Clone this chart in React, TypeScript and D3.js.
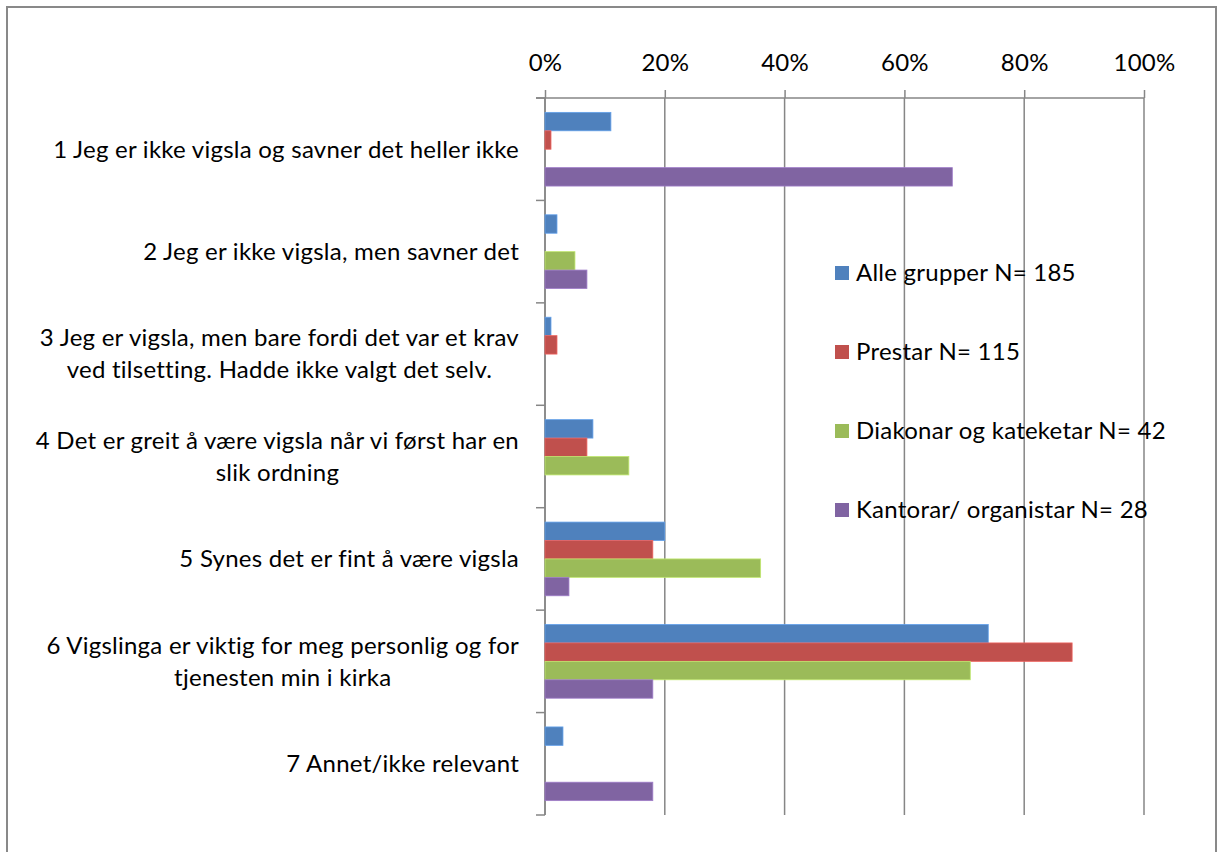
import { useRef, useEffect } from "react";
import * as d3 from "d3";

// category labels, already split into the lines the original wraps them on
const categories = [
  ["1 Jeg er ikke vigsla og savner det heller ikke"],
  ["2 Jeg er ikke vigsla, men savner det"],
  ["3 Jeg er vigsla, men bare fordi det var et krav", "ved tilsetting. Hadde ikke valgt det selv."],
  ["4 Det er greit å være vigsla når vi først har en", "slik ordning"],
  ["5 Synes det er fint å være vigsla"],
  ["6 Vigslinga er viktig for meg personlig og for", "tjenesten min i kirka"],
  ["7 Annet/ikke relevant"],
];

const seriesNames = [
  "Alle grupper N= 185",
  "Prestar N= 115",
  "Diakonar og kateketar N= 42",
  "Kantorar/ organistar N= 28",
];
const seriesColors = ["#4F81BD", "#C0504D", "#9BBB59", "#8064A2"];

const alleGrupper = [0.11, 0.02, 0.01, 0.08, 0.2, 0.74, 0.03];
const prestar = [0.01, 0, 0.02, 0.07, 0.18, 0.88, 0];
const diakonar = [0, 0.05, 0, 0.14, 0.36, 0.71, 0];
const kantorar = [0.68, 0.07, 0, 0, 0.04, 0.18, 0.18];

const tickValues = [0, 0.2, 0.4, 0.6, 0.8, 1];

const FONT = "Lato, 'Open Sans', sans-serif";
const FONT_SIZE = "24px";
const SPACING = "0.25px";

const App = () => {
  const svgRef = useRef(null);
  const width = 1222;
  const height = 852;
  const plot = { left: 545, right: 1144, top: 98, bottom: 815 };

  useEffect(() => {
    const svg = d3.select(svgRef.current);
    svg.selectAll("*").remove();

    const keys = categories.map((c) => c.join(" "));
    const allSeries = [alleGrupper, prestar, diakonar, kantorar];

    const x = d3.scaleLinear().domain([0, 1]).range([plot.left, plot.right]);
    const y = d3.scaleBand().domain(keys).range([plot.top, plot.bottom]).padding(0);
    const ySub = d3
      .scaleBand()
      .domain(d3.range(seriesNames.length))
      .range([0, y.bandwidth()])
      .paddingInner(0)
      .paddingOuter(0.78);

    // chart frame
    svg
      .append("rect")
      .attr("x", 7)
      .attr("y", 7)
      .attr("width", 1209)
      .attr("height", 860)
      .attr("fill", "#fff")
      .attr("stroke", "#898989")
      .attr("stroke-width", 2);

    // vertical gridlines
    svg
      .append("g")
      .selectAll("line")
      .data(tickValues)
      .join("line")
      .attr("x1", (d) => x(d))
      .attr("x2", (d) => x(d))
      .attr("y1", plot.top)
      .attr("y2", plot.bottom)
      .attr("stroke", "#868686")
      .attr("stroke-width", 1.5);

    // top axis
    const xAxis = d3
      .axisTop(x)
      .tickValues(tickValues)
      .tickFormat(d3.format(".0%"))
      .tickSize(8)
      .tickSizeOuter(0)
      .tickPadding(19);
    const gx = svg.append("g").attr("transform", `translate(0, ${plot.top})`).call(xAxis);
    gx.select(".domain").remove();
    gx.selectAll(".tick line").attr("stroke", "#868686").attr("stroke-width", 1.5);
    gx.selectAll(".tick text")
      .attr("fill", "#000")
      .style("font-family", FONT)
      .style("font-size", FONT_SIZE)
      .style("letter-spacing", SPACING);
    gx.append("line")
      .attr("x1", plot.left - 9)
      .attr("x2", plot.right)
      .attr("stroke", "#868686")
      .attr("stroke-width", 1.5);

    // left axis with category ticks at band edges
    const edges = keys.map((k) => y(k)).concat([plot.bottom]);
    const gy = svg.append("g");
    gy.append("line")
      .attr("x1", plot.left)
      .attr("x2", plot.left)
      .attr("y1", plot.top)
      .attr("y2", plot.bottom)
      .attr("stroke", "#868686")
      .attr("stroke-width", 1.5);
    gy.selectAll("line.tk")
      .data(edges)
      .join("line")
      .attr("class", "tk")
      .attr("x1", plot.left - 9)
      .attr("x2", plot.left)
      .attr("y1", (d) => d)
      .attr("y2", (d) => d)
      .attr("stroke", "#868686")
      .attr("stroke-width", 1.5);

    // bars
    allSeries.forEach((vals, si) => {
      svg
        .append("g")
        .selectAll("rect")
        .data(vals.map((v, i) => ({ v, k: keys[i] })).filter((d) => d.v > 0))
        .join("rect")
        .attr("x", x(0))
        .attr("y", (d) => y(d.k) + ySub(si))
        .attr("width", (d) => x(d.v) - x(0))
        .attr("height", ySub.bandwidth())
        .attr("fill", seriesColors[si])
        .attr("stroke", d3.color(seriesColors[si]).brighter(0.6))
        .attr("stroke-width", 0.8);
    });

    // category labels: centred lines, block right-aligned to the axis
    const lineH = 32;
    const labelRight = 519;
    categories.forEach((lines, i) => {
      const cy = y(keys[i]) + y.bandwidth() / 2;
      const t = svg
        .append("text")
        .attr("text-anchor", "middle")
        .attr("fill", "#000")
        .style("font-family", FONT)
        .style("font-size", FONT_SIZE)
        .style("letter-spacing", SPACING);
      const spans = lines.map((ln, j) =>
        t
          .append("tspan")
          .attr("y", cy + (j - (lines.length - 1) / 2) * lineH)
          .attr("dy", "0.35em")
          .text(ln)
      );
      const maxW = d3.max(spans, (s) => s.node().getComputedTextLength());
      spans.forEach((s) => s.attr("x", labelRight - maxW / 2));
    });

    // legend
    const legend = svg
      .append("g")
      .selectAll("g")
      .data(seriesNames)
      .join("g")
      .attr("transform", (d, i) => `translate(835, ${273 + i * 79})`);
    legend
      .append("rect")
      .attr("x", 0)
      .attr("y", -7)
      .attr("width", 14)
      .attr("height", 14)
      .attr("fill", (d, i) => seriesColors[i]);
    legend
      .append("text")
      .attr("x", 21)
      .attr("dy", "0.35em")
      .attr("fill", "#000")
      .style("font-family", FONT)
      .style("font-size", FONT_SIZE)
      .style("letter-spacing", SPACING)
      .text((d) => d);
  }, []);

  return (
    <svg
      ref={svgRef}
      width={width}
      height={height}
      style={{ position: "absolute", left: 0, top: 0, display: "block" }}
    />
  );
};

export default App;
